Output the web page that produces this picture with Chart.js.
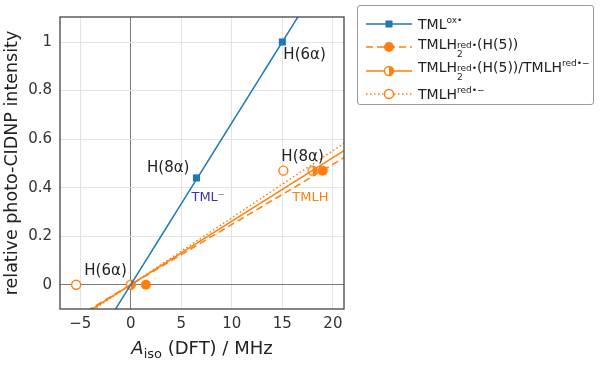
<!DOCTYPE html>
<html>
<head>
<meta charset="utf-8">
<script src="https://cdn.jsdelivr.net/npm/chart.js@4.4.0/dist/chart.umd.min.js"></script>
<style>
  body { margin: 0; background: #fff; }
  #wrap { position: relative; width: 600px; height: 365px; }
  #legend {
    position: absolute; left: 357px; top: 5px; width: 237px; height: 100px;
    border: 1px solid #9a9a9a; border-radius: 3px; box-sizing: border-box;
    font-family: "DejaVu Sans", sans-serif; font-size: 14px; color: #222;
    padding-top: 6px;
  }
  .row { height: 23.5px; display: flex; align-items: center; white-space: nowrap; }
  .row svg { margin-left: 8px; margin-right: 6px; flex: none; }
  .ss { display: inline-flex; flex-direction: column; font-size: 9px; line-height: 9px; vertical-align: 1px; }
  .sup { font-size: 9px; position: relative; top: -6px; }
</style>
</head>
<body>
<div id="wrap">
  <canvas id="grafico" width="600" height="365"></canvas>
  <div id="legend"></div>
</div>
<script>
// datos
const tmlOxX = [6.5, 15];
const tmlOxY = [0.44, 1.0];
const tmlh2X = [1.5, 19];        // TMLH2 red (H(5))
const tmlh2Y = [0, 0.47];
const mixX = [0, 18];            // TMLH2 red / TMLH red-
const mixY = [0, 0.47];
const tmlhAnX = [-5.4, 15.1];    // TMLH red-
const tmlhAnY = [0, 0.47];

// pendientes de las rectas (pasan por el origen)
const fitSlopes = [0.0667, 0.0248, 0.0262, 0.0276];

const xTicks = [-5, 0, 5, 10, 15, 20];
const yTicks = [0, 0.2, 0.4, 0.6, 0.8, 1];

// etiquetas sobre el grafico
const etiquetas = [
    { text: 'H(6α)', x: 15, y: 1.0, dx: 1, dy: 13, align: 'left', color: '#222' },
    { text: 'H(8α)', x: 6.5, y: 0.44, dx: -7, dy: -10, align: 'right', color: '#222' },
    { text: 'TML⁻', x: 6.5, y: 0.44, dx: -5, dy: 20, align: 'left', color: '#3a33b8', size: 13 },
    { text: 'H(8α)', x: 15, y: 0.47, dx: -1, dy: -14, align: 'left', color: '#222' },
    { text: 'TMLH', x: 15, y: 0.47, dx: 10, dy: 27, align: 'left', color: '#ff7f0e', size: 13 },
    { text: 'H(6α)', x: 0, y: 0, dx: -4, dy: -14, align: 'right', color: '#222' }
];

const azul = '#1f77b4';
const naranja = '#ff7f0e';
const fuente = '"DejaVu Sans", sans-serif';

function puntos(xs, ys) {
    return xs.map(function (x, i) { return { x: x, y: ys[i] }; });
}
function recta(m) {
    return [{ x: -10, y: -10 * m }, { x: 25, y: 25 * m }];
}

// marcador medio relleno (derecha)
function medioCirculo() {
    var c = document.createElement('canvas');
    c.width = 12; c.height = 12;
    var g = c.getContext('2d');
    g.beginPath(); g.arc(6, 6, 4.5, 0, Math.PI * 2); g.fillStyle = '#fff'; g.fill();
    g.beginPath(); g.arc(6, 6, 4.5, -Math.PI / 2, Math.PI / 2); g.closePath(); g.fillStyle = naranja; g.fill();
    g.beginPath(); g.arc(6, 6, 4.5, 0, Math.PI * 2); g.strokeStyle = naranja; g.lineWidth = 1.4; g.stroke();
    return c;
}

var lineaBase = { showLine: true, pointRadius: 0, pointHoverRadius: 0, borderWidth: 1.5, fill: false };

var datos = {
    datasets: [
        Object.assign({ data: recta(fitSlopes[0]), borderColor: azul }, lineaBase),
        Object.assign({ data: recta(fitSlopes[1]), borderColor: naranja, borderDash: [7, 4] }, lineaBase),
        Object.assign({ data: recta(fitSlopes[2]), borderColor: naranja }, lineaBase),
        Object.assign({ data: recta(fitSlopes[3]), borderColor: naranja, borderDash: [1.5, 2.5] }, lineaBase),
        { data: puntos(tmlOxX, tmlOxY), pointStyle: 'rect', pointRadius: 5, backgroundColor: azul, borderColor: azul, borderWidth: 0, showLine: false },
        { data: puntos(tmlhAnX, tmlhAnY), pointStyle: 'circle', pointRadius: 4.5, backgroundColor: '#fff', borderColor: naranja, borderWidth: 1.4, showLine: false },
        { data: puntos(tmlh2X, tmlh2Y), pointStyle: 'circle', pointRadius: 5, backgroundColor: naranja, borderColor: naranja, borderWidth: 0, showLine: false },
        { data: puntos(mixX, mixY), pointStyle: medioCirculo(), showLine: false }
    ]
};

var marcoYTextos = {
    id: 'marcoYTextos',
    afterDatasetsDraw: function (chart) {
        var ctx = chart.ctx, a = chart.chartArea;
        var sx = chart.scales.x, sy = chart.scales.y;
        ctx.save();
        ctx.strokeStyle = '#444';
        ctx.lineWidth = 1.3;
        ctx.strokeRect(a.left, a.top, a.right - a.left, a.bottom - a.top);
        ctx.textBaseline = 'middle';
        etiquetas.forEach(function (e) {
            ctx.font = (e.size || 15) + 'px ' + fuente;
            ctx.fillStyle = e.color;
            ctx.textAlign = e.align;
            ctx.fillText(e.text, sx.getPixelForValue(e.x) + e.dx, sy.getPixelForValue(e.y) + e.dy);
        });
        // titulo eje x: A_iso (DFT) / MHz
        ctx.fillStyle = '#222';
        ctx.textBaseline = 'alphabetic';
        ctx.textAlign = 'left';
        var p1 = 'A', p2 = 'iso', p3 = ' (DFT) / MHz';
        ctx.font = 'italic 18px ' + fuente; var w1 = ctx.measureText(p1).width;
        ctx.font = '13px ' + fuente; var w2 = ctx.measureText(p2).width;
        ctx.font = '18px ' + fuente; var w3 = ctx.measureText(p3).width;
        var x0 = (a.left + a.right) / 2 - (w1 + w2 + w3) / 2, base = 354;
        ctx.font = 'italic 18px ' + fuente; ctx.fillText(p1, x0, base);
        ctx.font = '13px ' + fuente; ctx.fillText(p2, x0 + w1, base + 4);
        ctx.font = '18px ' + fuente; ctx.fillText(p3, x0 + w1 + w2, base);
        ctx.restore();
    }
};

function colorRejilla(c) {
    return c.tick && c.tick.value === 0 ? '#7a7a7a' : '#e3e3e3';
}
function etiqueta(v) {
    return String(v).replace('-', '−');
}

new Chart(document.getElementById('grafico').getContext('2d'), {
    type: 'scatter',
    data: datos,
    plugins: [marcoYTextos],
    options: {
        responsive: false,
        animation: false,
        layout: { padding: { top: 5, right: 256, left: 0, bottom: 0 } },
        plugins: { legend: { display: false }, tooltip: { enabled: false } },
        scales: {
            x: {
                type: 'linear', min: -7, max: 21.1,
                afterBuildTicks: function (s) { s.ticks = xTicks.map(function (v) { return { value: v }; }); },
                afterFit: function (s) { s.height = 56; },
                grid: { color: colorRejilla, lineWidth: 1, drawTicks: false },
                border: { display: false },
                ticks: { callback: etiqueta, color: '#333', padding: 6, font: { size: 15, family: fuente }, maxRotation: 0 }
            },
            y: {
                type: 'linear', min: -0.1, max: 1.103,
                afterBuildTicks: function (s) { s.ticks = yTicks.map(function (v) { return { value: v }; }); },
                afterFit: function (s) { s.width = 60; },
                grid: { color: colorRejilla, lineWidth: 1, drawTicks: false },
                border: { display: false },
                title: { display: true, text: 'relative photo-CIDNP intensity', color: '#222', font: { size: 17.5, family: fuente }, padding: { top: 2, bottom: 0 } },
                ticks: { callback: etiqueta, color: '#333', padding: 8, font: { size: 15, family: fuente } }
            }
        }
    }
});

// leyenda en html (superindices y subindices)
function muestra(dash, marcador) {
    var svg = '<svg width="46" height="14"><line x1="0" y1="7" x2="46" y2="7" stroke="' + (marcador === 'sq' ? azul : naranja) + '" stroke-width="1.5"' + (dash ? ' stroke-dasharray="' + dash + '"' : '') + '/>';
    if (marcador === 'sq') svg += '<rect x="19.5" y="3.5" width="7" height="7" fill="' + azul + '"/>';
    if (marcador === 'full') svg += '<circle cx="23" cy="7" r="5" fill="' + naranja + '"/>';
    if (marcador === 'open') svg += '<circle cx="23" cy="7" r="4.5" fill="#fff" stroke="' + naranja + '" stroke-width="1.4"/>';
    if (marcador === 'half') svg += '<circle cx="23" cy="7" r="4.5" fill="#fff" stroke="' + naranja + '" stroke-width="1.4"/><path d="M23 2.5 A4.5 4.5 0 0 1 23 11.5 Z" fill="' + naranja + '"/>';
    return svg + '</svg>';
}
var h2red = 'TMLH<span class="ss"><span>red•</span><span>2</span></span>';
var filas = [
    muestra(null, 'sq') + '<span>TML<span class="sup">ox•</span></span>',
    muestra('7,4', 'full') + '<span>' + h2red + '(H(5))</span>',
    muestra(null, 'half') + '<span>' + h2red + '(H(5))/TMLH<span class="sup">red•−</span></span>',
    muestra('1.5,2.5', 'open') + '<span>TMLH<span class="sup">red•−</span></span>'
];
var html = '';
filas.forEach(function (f) { html += '<div class="row">' + f + '</div>'; });
document.getElementById('legend').innerHTML = html;
</script>
</body>
</html>
